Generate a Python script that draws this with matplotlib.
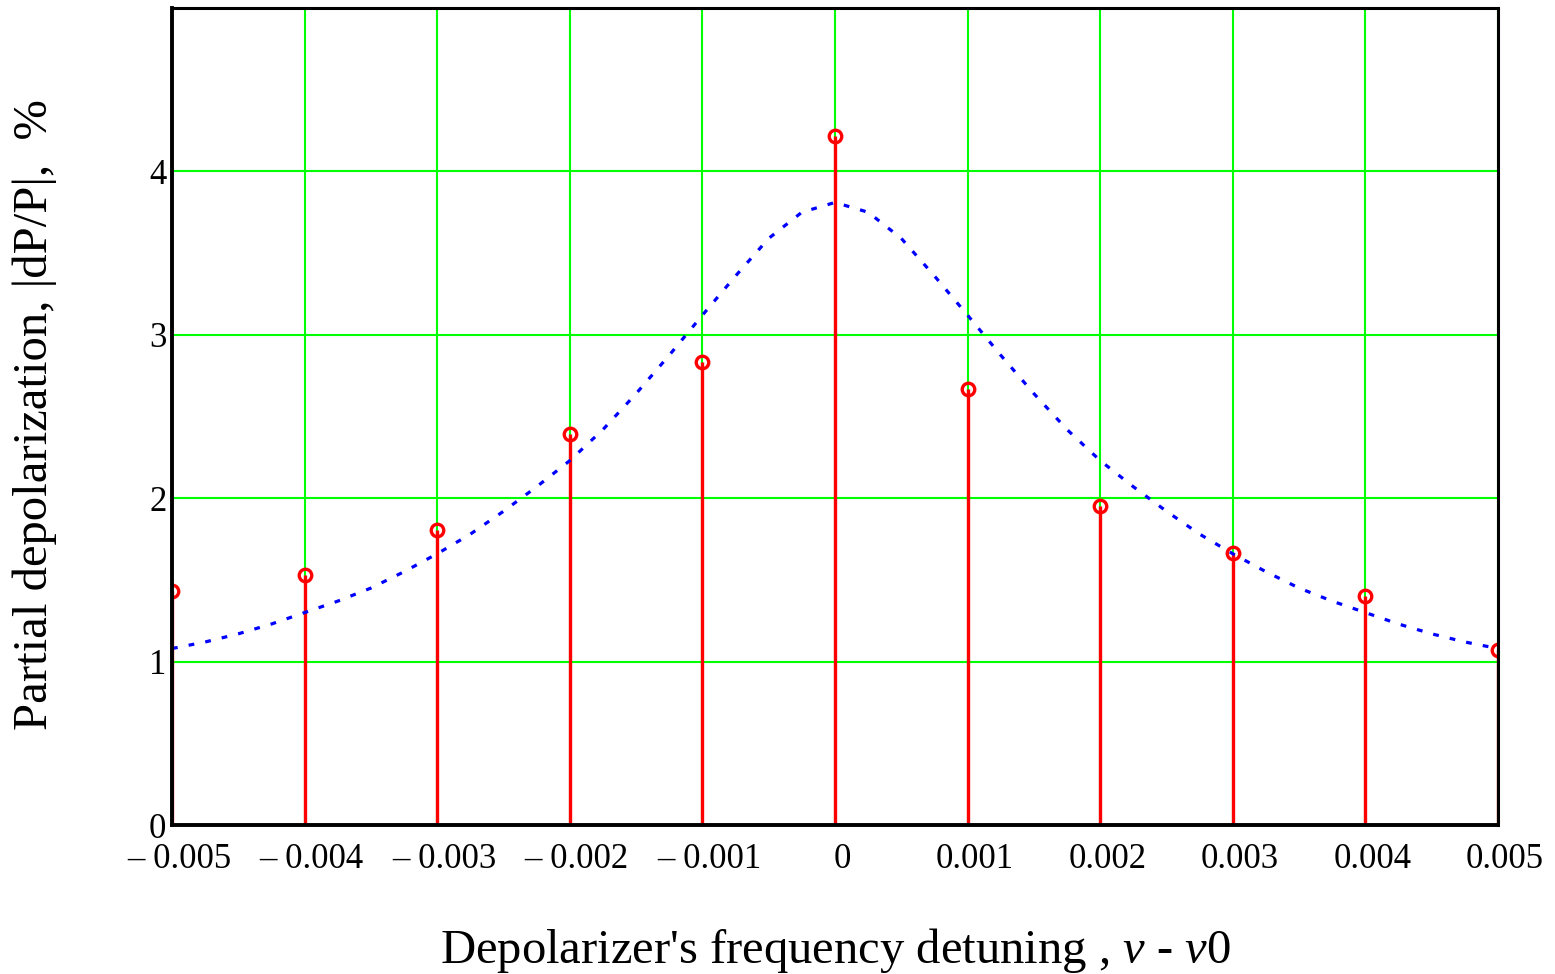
import matplotlib
matplotlib.use("Agg")
import matplotlib.pyplot as plt
import matplotlib.transforms as mtransforms
import numpy as np

# Stem (measured) data
stem_x = [-0.005, -0.004, -0.003, -0.002, -0.001, 0.0, 0.001, 0.002, 0.003, 0.004, 0.005]
stem_y = [1.435, 1.53, 1.805, 2.39, 2.835, 4.215, 2.67, 1.955, 1.665, 1.40, 1.07]

# Dotted curve data
curve_x = [-0.005, -0.00475, -0.0045, -0.00425, -0.004, -0.00375, -0.0035, -0.00325,
           -0.003, -0.00275, -0.0025, -0.00225, -0.002, -0.00175, -0.0015, -0.00125,
           -0.001, -0.00075, -0.0005, -0.00025, 0.0,
           0.00025, 0.0005, 0.00075, 0.001, 0.00125, 0.0015, 0.00175, 0.002,
           0.00225, 0.0025, 0.00275, 0.003, 0.00325, 0.0035, 0.00375, 0.004,
           0.00425, 0.0045, 0.00475, 0.005]
curve_y = [1.08, 1.12, 1.17, 1.23, 1.30, 1.37, 1.45, 1.55,
           1.66, 1.78, 1.92, 2.07, 2.23, 2.42, 2.64, 2.875,
           3.12, 3.36, 3.59, 3.75, 3.81,
           3.75, 3.59, 3.36, 3.12, 2.875, 2.64, 2.42, 2.23,
           2.07, 1.92, 1.78, 1.66, 1.55, 1.45, 1.37, 1.30,
           1.23, 1.17, 1.12, 1.08]

xticks = [-0.005, -0.004, -0.003, -0.002, -0.001, 0.0, 0.001, 0.002, 0.003, 0.004, 0.005]
xtick_labels = ["\u2013 0.005", "\u2013 0.004", "\u2013 0.003", "\u2013 0.002", "\u2013 0.001",
                "0", "0.001", "0.002", "0.003", "0.004", "0.005"]
yticks = [0, 1, 2, 3, 4]
ytick_labels = ["0", "1", "2", "3", "4"]

plt.rcParams['font.family'] = ['Liberation Serif', 'DejaVu Serif']
plt.rcParams['mathtext.fontset'] = 'custom'
plt.rcParams['mathtext.rm'] = 'Liberation Serif'
plt.rcParams['mathtext.it'] = 'Liberation Serif:italic'

fig = plt.figure(figsize=(15.55, 9.74), dpi=100)
ax = fig.add_axes([172/1555, 1-825/974, (1498-172)/1555, (825-8)/974])

ax.set_xlim(-0.005, 0.005)
ax.set_ylim(0, 5)

green = '#00ff00'
for xv in xticks:
    ax.axvline(xv, color=green, lw=1.5, zorder=1)
for yv in [1, 2, 3, 4]:
    ax.axhline(yv, color=green, lw=1.5, zorder=1)

ax.vlines(stem_x, 0, stem_y, colors='#ff0000', lw=2.4, zorder=3)
ax.plot(stem_x, stem_y, 'o', mfc='none', mec='#ff0000', mew=2.4, ms=9, zorder=4)

ax.plot(curve_x, curve_y, color='#0000ff', lw=2.3, linestyle=(0, (1.8, 3.5)), zorder=5)

ax.set_xticks(xticks)
ax.set_xticklabels(xtick_labels)
ax.set_yticks(yticks)
ax.set_yticklabels(ytick_labels)
ax.tick_params(axis='both', length=0, labelsize=25)
ax.tick_params(axis='x', pad=13)
ax.tick_params(axis='y', pad=4)

offset = mtransforms.ScaledTranslation(7/100, 0, fig.dpi_scale_trans)
for lab in ax.get_xticklabels():
    lab.set_transform(lab.get_transform() + offset)

for s in ['left', 'bottom']:
    ax.spines[s].set_linewidth(2.8)
for s in ['top', 'right']:
    ax.spines[s].set_linewidth(2.2)
for s in ax.spines.values():
    s.set_zorder(6)

ax.set_xlabel("Depolarizer's frequency detuning , $\\mathit{\\nu}$ - $\\mathit{\\nu}$0", fontsize=35)
ax.set_ylabel("Partial depolarization, |dP/P|,  %", fontsize=35)
ax.xaxis.set_label_coords(0.5, (825-926)/817)
ax.yaxis.set_label_coords((57-172)/1326, 0.502)

fig.savefig("out.png", dpi=100)
